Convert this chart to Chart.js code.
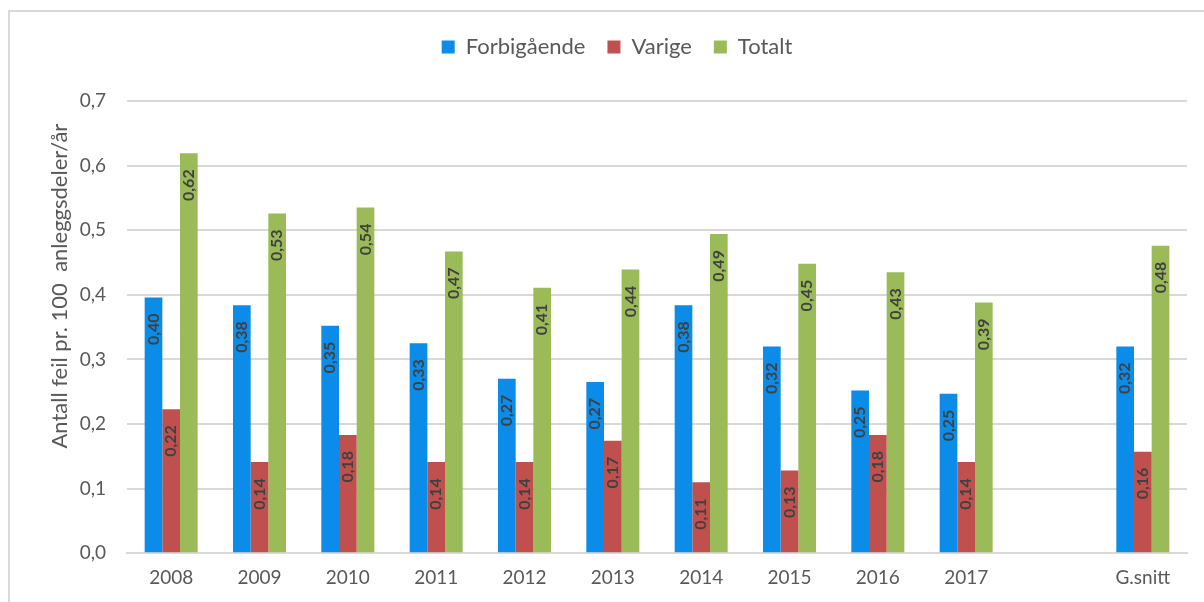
<!DOCTYPE html>
<html>
<head>
<meta charset="utf-8">
<script src="https://cdn.jsdelivr.net/npm/chart.js@4"></script>
<style>
    html, body { margin: 0; padding: 0; background: #ffffff; }
    #frame {
        position: absolute; left: 8px; top: 10px; width: 1196px; height: 592px;
        border-left: 2px solid #d9d9d9; border-top: 2px solid #d9d9d9;
    }
    #wrap { position: absolute; left: 10px; top: 12px; width: 1194px; height: 590px; }
</style>
</head>
<body>
<div id="frame"></div>
<div id="wrap"><canvas id="feilChart"></canvas></div>
<script>
const categories = ["2008", "2009", "2010", "2011", "2012", "2013", "2014", "2015", "2016", "2017", "", "G.snitt"];
const forbigaende = [0.396, 0.384, 0.352, 0.325, 0.270, 0.265, 0.384, 0.320, 0.252, 0.247, null, 0.320];
const varige = [0.223, 0.141, 0.183, 0.141, 0.141, 0.174, 0.110, 0.128, 0.183, 0.141, null, 0.157];
const totalt = [0.619, 0.526, 0.535, 0.467, 0.411, 0.439, 0.494, 0.448, 0.435, 0.388, null, 0.476];
const yTicks = [0, 0.1, 0.2, 0.3, 0.4, 0.5, 0.6, 0.7];
const yTitle = "Antall feil pr. 100  anleggsdeler/år";

const fontFamily = "Lato, 'Open Sans', sans-serif";
const greyText = "#595959";

// values written rotated inside the top of each bar
const barLabels = {
    id: "barLabels",
    afterDatasetsDraw(chart) {
        const ctx = chart.ctx;
        ctx.save();
        ctx.font = "bold 16px " + fontFamily;
        ctx.fillStyle = "#404040";
        ctx.textAlign = "right";
        ctx.textBaseline = "middle";
        chart.data.datasets.forEach((ds, i) => {
            chart.getDatasetMeta(i).data.forEach((bar, j) => {
                const v = ds.data[j];
                if (v == null) return;
                ctx.save();
                ctx.translate(bar.x, bar.y + 16);
                ctx.rotate(-Math.PI / 2);
                ctx.fillText(v.toFixed(2).replace(".", ","), 0, 0);
                ctx.restore();
            });
        });
        ctx.restore();
    }
};

// y title sits a bit above the middle of the plot, like the original
const yTitleDraw = {
    id: "yTitleDraw",
    afterDraw(chart) {
        const ctx = chart.ctx;
        const area = chart.chartArea;
        ctx.save();
        ctx.font = "22px " + fontFamily;
        ctx.fillStyle = greyText;
        ctx.textAlign = "center";
        ctx.textBaseline = "middle";
        ctx.translate(50, (area.top + area.bottom) / 2 - 41);
        ctx.rotate(-Math.PI / 2);
        ctx.fillText(yTitle, 0, 0);
        ctx.restore();
    }
};

// extra room between legend and plot
const legendGap = {
    id: "legendGap",
    beforeInit(chart) {
        const fit = chart.legend.fit;
        chart.legend.fit = function () {
            fit.bind(chart.legend)();
            this.height += 33;
        };
    }
};

const ctx = document.getElementById("feilChart").getContext("2d");
new Chart(ctx, {
    type: "bar",
    data: {
        labels: categories,
        datasets: [
            { label: "Forbigående", data: forbigaende, backgroundColor: "#0a8ce8" },
            { label: "Varige", data: varige, backgroundColor: "#c0504d" },
            { label: "Totalt", data: totalt, backgroundColor: "#9bbb59" }
        ]
    },
    options: {
        responsive: true, maintainAspectRatio: false, animation: false,
        datasets: { bar: { categoryPercentage: 0.6, barPercentage: 1.0 } },
        layout: { padding: { left: 37, right: 17, top: 2, bottom: 0 } },
        plugins: {
            legend: {
                position: "top",
                labels: {
                    boxWidth: 13, boxHeight: 13, padding: 22,
                    color: greyText, font: { family: fontFamily, size: 22 }
                }
            },
            tooltip: { enabled: false }
        },
        scales: {
            x: {
                grid: { display: false, drawTicks: false },
                border: { color: "#d9d9d9", width: 2 },
                ticks: { color: greyText, font: { family: fontFamily, size: 19 }, padding: 13 }
            },
            y: {
                min: 0, max: 0.7,
                afterBuildTicks: (axis) => { axis.ticks = yTicks.map(v => ({ value: v })); },
                afterFit: (axis) => { axis.width = 80; },
                grid: { color: "#d9d9d9", lineWidth: 2, drawTicks: false },
                border: { display: false },
                ticks: {
                    color: greyText, font: { family: fontFamily, size: 19 }, padding: 21,
                    callback: (v) => v.toFixed(1).replace(".", ",")
                }
            }
        }
    },
    plugins: [barLabels, yTitleDraw, legendGap]
});
</script>
</body>
</html>
